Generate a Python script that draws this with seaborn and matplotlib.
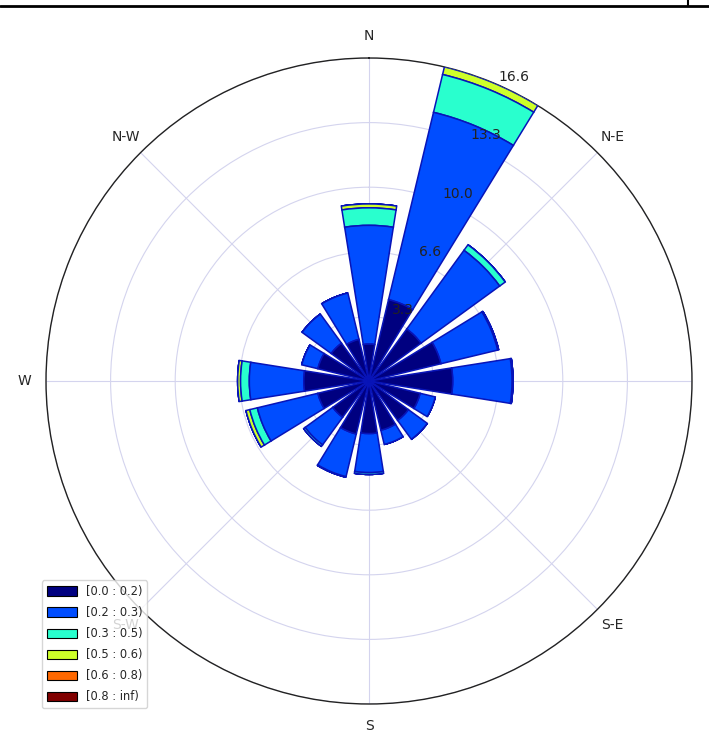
import numpy as np
import matplotlib
matplotlib.use('Agg')
import matplotlib.pyplot as plt
from matplotlib.patches import Patch
from matplotlib.lines import Line2D
import seaborn as sns

# wind directions, 16 sectors clockwise from north
directions = ['N', 'NNE', 'NE', 'ENE', 'E', 'ESE', 'SE', 'SSE',
              'S', 'SSW', 'SW', 'WSW', 'W', 'WNW', 'NW', 'NNW']
sector_deg = [0, 22.5, 45, 67.5, 90, 112.5, 135, 157.5,
              180, 202.5, 225, 247.5, 270, 292.5, 315, 337.5]

# frequency (%) for each speed bin
bin_labels = ['[0.0 : 0.2)', '[0.2 : 0.3)', '[0.3 : 0.5)',
              '[0.5 : 0.6)', '[0.6 : 0.8)', '[0.8 : inf)']
freq_b0 = [1.9, 4.3, 3.3, 3.8, 4.3, 2.7, 2.5, 2.6, 2.7, 2.8, 2.3, 2.7, 3.35, 2.7, 2.4, 2.2]
freq_b1 = [6.1, 9.9, 5.0, 3.0, 3.05, 0.8, 1.2, 0.75, 2.0, 2.25, 1.75, 3.2, 2.8, 0.85, 1.85, 2.45]
freq_b2 = [0.9, 2.0, 0.35, 0.05, 0.05, 0, 0, 0, 0.1, 0.03, 0.1, 0.4, 0.45, 0, 0, 0]
freq_b3 = [0.2, 0.4, 0, 0, 0, 0, 0, 0, 0, 0, 0, 0.2, 0.15, 0, 0, 0]
freq_b4 = [0] * 16
freq_b5 = [0] * 16

compass_ticks = [0, 45, 90, 135, 180, 225, 270, 315]
compass_labels = ['N', 'N-E', 'E', 'S-E', 'S', 'S-W', 'W', 'N-W']

rmax = 16.6

sns.set_style('white')
palette = sns.color_palette(plt.get_cmap('jet')(np.linspace(0, 1, 6)))

fig = plt.figure(figsize=(7.09, 7.40), dpi=100)
ax = fig.add_axes([46 / 709, 36 / 740, 646 / 709, 646 / 740], projection='polar')
ax.set_theta_zero_location('N')
ax.set_theta_direction(-1)

theta = np.deg2rad(sector_deg)
width = 0.8 * 2 * np.pi / 16
bins = [freq_b0, freq_b1, freq_b2, freq_b3, freq_b4, freq_b5]
offset = np.zeros(16)
for i, vals in enumerate(bins):
    vals = np.array(vals, dtype=float)
    ax.bar(theta, vals, width=width, bottom=offset, color=palette[i],
           edgecolor='#0814b8', linewidth=1.1, zorder=10 - i)
    offset += vals

ax.set_ylim(0, rmax)
radii = np.linspace(0, rmax, 6)[1:]
ax.set_rgrids(radii, labels=[''] * len(radii))
# radius labels drawn on top of the bars
for r in radii:
    ax.text(np.deg2rad(25.5), r + 0.7, '%.1f' % r, fontsize=10, color='#222222',
            ha='center', va='center', zorder=30, clip_on=False)
ax.set_thetagrids(compass_ticks, labels=compass_labels, fontsize=10)
ax.tick_params(axis='x', pad=5)
ax.grid(True, color='#d4d4ee', linewidth=0.8)
ax.spines['polar'].set_color('#222222')
ax.spines['polar'].set_linewidth(1.0)

handles = [Patch(facecolor=palette[i], edgecolor='black', linewidth=0.8) for i in range(6)]
fig.legend(handles, bin_labels, loc='lower left', bbox_to_anchor=(42 / 709, 32 / 740),
           fontsize=8.3, handlelength=2.6, handleheight=0.87, labelspacing=0.7,
           frameon=True, borderaxespad=0)

# clipped frame line along the top of the picture
fig.add_artist(Line2D([0, 1], [1 - 6 / 740, 1 - 6 / 740], color='black', lw=2))
fig.add_artist(Line2D([688 / 709, 688 / 709], [1 - 6 / 740, 1], color='black', lw=1.5))

fig.savefig('out.png', dpi=100)
